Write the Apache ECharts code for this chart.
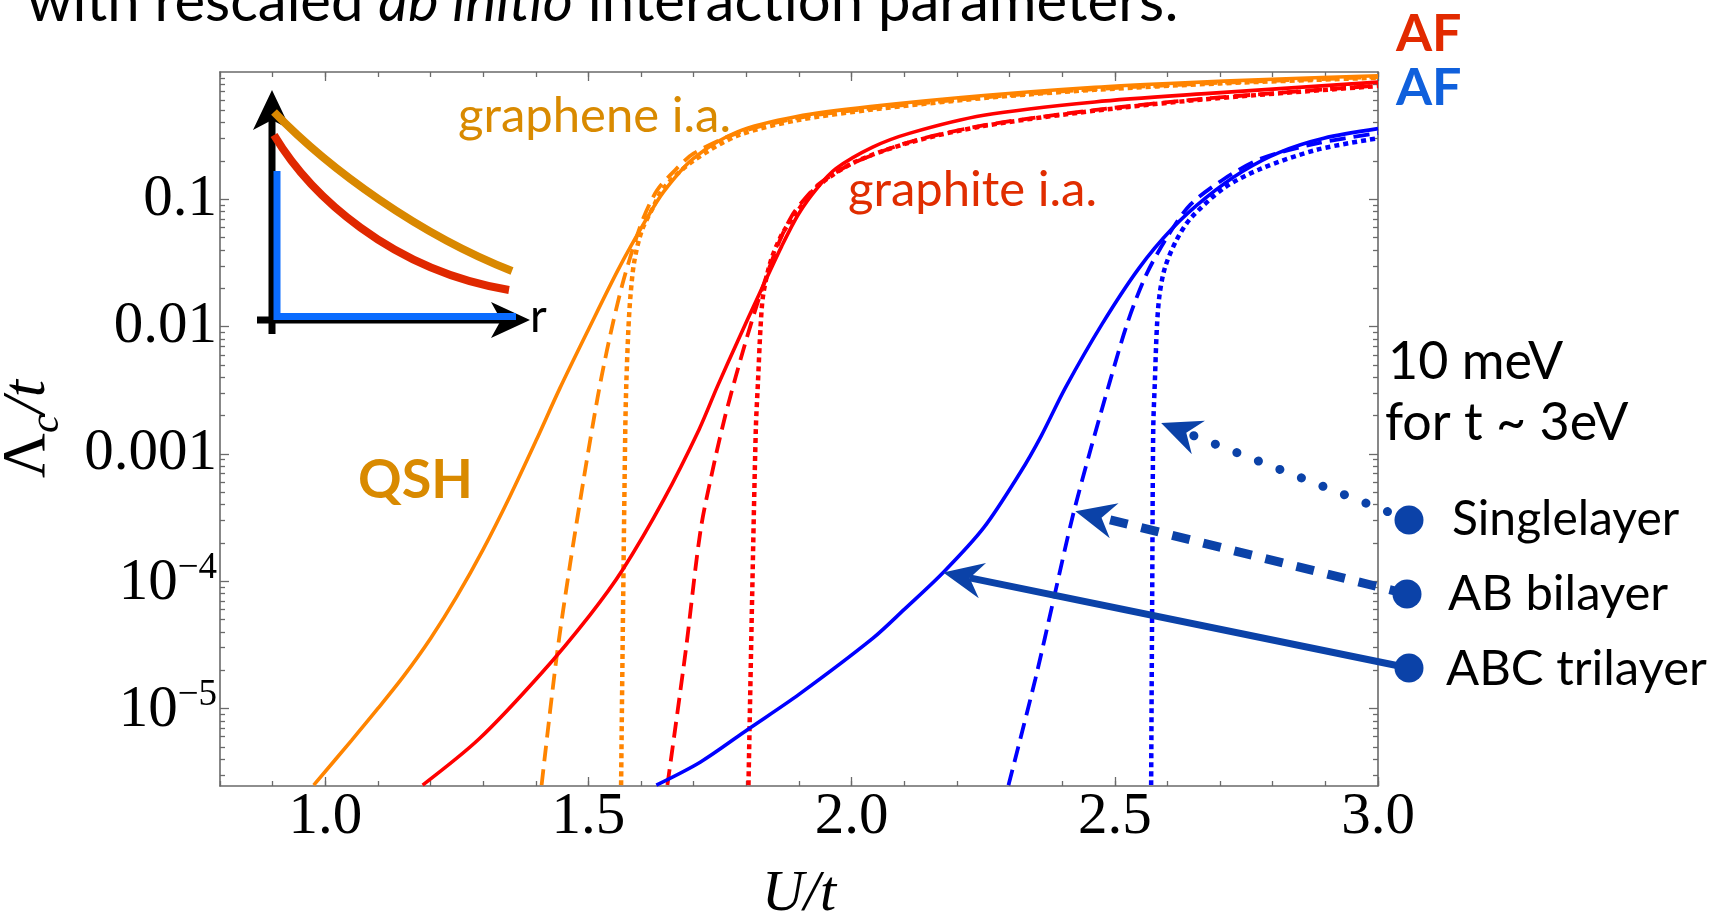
<!DOCTYPE html>
<html>
<head>
<meta charset="utf-8">
<script src="https://cdn.jsdelivr.net/npm/echarts@6/dist/echarts.min.js"></script>
<style>
  html, body { margin: 0; padding: 0; background: #ffffff; }
  #chart { width: 1722px; height: 912px; }
</style>
</head>
<body>
<div id="chart"></div>
<script>
// ---- Axis ticks ----
const xTickValues = [1.0, 1.5, 2.0, 2.5, 3.0];
const xTickLabels = ['1.0', '1.5', '2.0', '2.5', '3.0'];
const yTickValues = [1e-5, 1e-4, 1e-3, 1e-2, 1e-1];
const yTickLabels = ['10^−5', '10^−4', '0.001', '0.01', '0.1'];

// ---- Critical scale Λc/t versus U/t ----
// graphene interaction parameters (orange)
const uGrapheneTri = [0.978, 1.05, 1.10, 1.15, 1.20, 1.25, 1.30, 1.35, 1.40, 1.446, 1.50, 1.558, 1.608, 1.643, 1.699, 1.783, 1.896, 2.040, 2.251, 2.462, 2.602, 2.812, 3.0];
const lamGrapheneTri = [2.5e-6, 5.62e-6, 1.0e-5, 1.82e-5, 3.55e-5, 7.6e-5, 1.78e-4, 4.57e-4, 1.26e-3, 3.3e-3, 9.5e-3, 0.0288, 0.0676, 0.115, 0.209, 0.339, 0.447, 0.537, 0.653, 0.759, 0.813, 0.881, 0.935];
const uGrapheneBi = [1.411, 1.440, 1.465, 1.490, 1.510, 1.525, 1.545, 1.565, 1.585, 1.605, 1.630, 1.660, 1.700, 1.783, 1.900, 2.040, 2.251, 2.462, 2.700, 3.0];
const lamGrapheneBi = [2.5e-6, 2.63e-5, 1.35e-4, 6.0e-4, 1.86e-3, 4.07e-3, 0.0100, 0.0219, 0.0417, 0.0724, 0.117, 0.162, 0.229, 0.331, 0.437, 0.519, 0.631, 0.733, 0.822, 0.912];
const uGrapheneMono = [1.562, 1.566, 1.570, 1.572, 1.576, 1.580, 1.587, 1.601, 1.622, 1.643, 1.699, 1.783, 1.896, 2.040, 2.251, 2.462, 2.700, 3.0];
const lamGrapheneMono = [2.5e-6, 7.6e-5, 1.58e-3, 3.63e-3, 9.8e-3, 0.0178, 0.0324, 0.0562, 0.0851, 0.123, 0.200, 0.316, 0.417, 0.507, 0.624, 0.724, 0.813, 0.902];

// graphite interaction parameters (red)
const uGraphiteTri = [1.185, 1.292, 1.411, 1.502, 1.565, 1.643, 1.710, 1.745, 1.783, 1.825, 1.867, 1.900, 1.935, 1.970, 2.040, 2.111, 2.251, 2.462, 2.672, 3.0];
const lamGraphiteTri = [2.5e-6, 5.75e-6, 1.9e-5, 5.37e-5, 1.23e-4, 4.37e-4, 1.55e-3, 3.39e-3, 7.6e-3, 0.0182, 0.0427, 0.0776, 0.123, 0.174, 0.257, 0.331, 0.457, 0.582, 0.676, 0.832];
const uGraphiteBi = [1.650, 1.685, 1.713, 1.740, 1.760, 1.780, 1.800, 1.820, 1.846, 1.867, 1.885, 1.900, 1.935, 1.970, 2.005, 2.110, 2.250, 2.460, 2.670, 3.0];
const lamGraphiteBi = [2.5e-6, 2.88e-5, 2.51e-4, 8.9e-4, 2.0e-3, 4.07e-3, 7.94e-3, 0.0148, 0.0309, 0.0513, 0.0724, 0.0891, 0.129, 0.162, 0.195, 0.282, 0.380, 0.501, 0.617, 0.783];
const uGraphiteMono = [1.804, 1.811, 1.818, 1.822, 1.827, 1.832, 1.846, 1.867, 1.896, 1.935, 2.005, 2.110, 2.250, 2.460, 2.670, 3.0];
const lamGraphiteMono = [2.5e-6, 7.6e-5, 1.58e-3, 3.63e-3, 0.010, 0.0178, 0.0324, 0.0525, 0.0794, 0.126, 0.195, 0.279, 0.376, 0.495, 0.610, 0.776];

// layered stacks (blue)
const uStackTri = [1.629, 1.713, 1.804, 1.900, 2.040, 2.100, 2.174, 2.251, 2.321, 2.360, 2.406, 2.476, 2.546, 2.609, 2.672, 2.743, 2.813, 2.897, 3.0];
const lamStackTri = [2.5e-6, 3.8e-6, 6.9e-6, 1.29e-5, 3.55e-5, 6.0e-5, 1.17e-4, 2.63e-4, 7.2e-4, 1.38e-3, 3.3e-3, 0.0105, 0.0288, 0.0589, 0.102, 0.166, 0.234, 0.302, 0.359];
const uStackBi = [2.298, 2.349, 2.385, 2.420, 2.455, 2.490, 2.525, 2.560, 2.602, 2.644, 2.708, 2.778, 2.884, 3.0];
const lamStackBi = [2.5e-6, 1.7e-5, 7.6e-5, 3.24e-4, 1.12e-3, 3.63e-3, 0.011, 0.0257, 0.0525, 0.0912, 0.145, 0.209, 0.275, 0.331];
const uStackMono = [2.569, 2.571, 2.573, 2.576, 2.580, 2.585, 2.595, 2.616, 2.644, 2.708, 2.778, 2.884, 3.0];
const lamStackMono = [2.5e-6, 7.6e-5, 1.58e-3, 3.63e-3, 0.010, 0.0178, 0.0288, 0.0468, 0.0708, 0.123, 0.174, 0.245, 0.302];

// 10 meV threshold for t ~ 3 eV
const thresholdLevel = [0.0036];

// points the legend arrows touch: [U/t, Λc/t]
const arrowTipMono = [2.588, 1.75e-3];
const arrowTipBi = [2.425, 3.55e-4];
const arrowTipTri = [2.174, 1.17e-4];

const pairs = (us, vs) => us.map((u, i) => [u, vs[i]]);

const ORANGE = '#ff8400', RED = '#ff0000', BLUE = '#0000ff';
const NAVY = '#0b42a8';
const serif = '"Liberation Serif", "DejaVu Serif", serif';
const sans = 'Lato, "Open Sans", sans-serif';

// minor tick positions
const xMinorTicks = [];
for (let k = 8; k <= 30; k++) xMinorTicks.push(k / 10);
const yMinorTicks = [];
for (let e = -6; e <= -1; e++) for (let m = 2; m <= 9; m++) yMinorTicks.push(m * Math.pow(10, e));

const AXIS_COLOR = '#6a6a6a';

function xAxisDef(position, values, len, withLine, withLabels) {
  return {
    type: 'value', min: 0.8, max: 3.0, position: position,
    axisLine: { show: withLine, onZero: false, lineStyle: { color: AXIS_COLOR, width: 1.6 } },
    axisTick: { show: true, inside: true, length: len, customValues: values,
                lineStyle: { color: AXIS_COLOR, width: 1.3 } },
    axisLabel: withLabels ? {
      show: true, customValues: xTickValues, margin: 2,
      fontFamily: serif, fontSize: 59, color: '#000',
      formatter: v => { const i = xTickValues.findIndex(t => Math.abs(t - v) < 1e-9); return i >= 0 ? xTickLabels[i] : ''; }
    } : { show: false },
    splitLine: { show: false }
  };
}

function yLabel(v) {
  const i = yTickValues.findIndex(t => Math.abs(Math.log10(t) - Math.log10(v)) < 1e-6);
  if (i < 0) return '';
  const s = yTickLabels[i];
  if (s.indexOf('^') >= 0) {
    const parts = s.split('^');
    return '{b|' + parts[0] + '}{p|' + parts[1] + '}';
  }
  return '{b|' + s + '}';
}

function yAxisDef(position, values, len, withLine, withLabels) {
  return {
    type: 'log', logBase: 10, min: 2.46e-6, max: 1, position: position,
    axisLine: { show: withLine, onZero: false, lineStyle: { color: AXIS_COLOR, width: 1.6 } },
    axisTick: { show: true, inside: true, length: len, customValues: values,
                lineStyle: { color: AXIS_COLOR, width: 1.3 } },
    axisLabel: withLabels ? {
      show: true, customValues: yTickValues, margin: 3, formatter: yLabel,
      rich: {
        b: { fontFamily: serif, fontSize: 59, color: '#000', verticalAlign: 'bottom' },
        p: { fontFamily: serif, fontSize: 37, color: '#000', verticalAlign: 'bottom', padding: [0, 0, 26, 0] }
      }
    } : { show: false },
    splitLine: { show: false }
  };
}

const chart = echarts.init(document.getElementById('chart'), null, { renderer: 'canvas' });

function lineSeries(name, data, color, kind) {
  const style = { color: color, width: 3.6 };
  if (kind === 'dashed') { style.type = [16, 8]; style.width = 3.8; }
  if (kind === 'dotted') { style.type = [5, 4]; style.width = 4.5; }
  return {
    name: name, type: 'line', data: data, showSymbol: false, smooth: 0.3,
    clip: true, lineStyle: style, silent: true, animation: false, z: 3
  };
}

const series = [
  lineSeries('graphene ABC trilayer', pairs(uGrapheneTri, lamGrapheneTri), ORANGE, 'solid'),
  lineSeries('graphene AB bilayer', pairs(uGrapheneBi, lamGrapheneBi), ORANGE, 'dashed'),
  lineSeries('graphene Singlelayer', pairs(uGrapheneMono, lamGrapheneMono), ORANGE, 'dotted'),
  lineSeries('graphite ABC trilayer', pairs(uGraphiteTri, lamGraphiteTri), RED, 'solid'),
  lineSeries('graphite AB bilayer', pairs(uGraphiteBi, lamGraphiteBi), RED, 'dashed'),
  lineSeries('graphite Singlelayer', pairs(uGraphiteMono, lamGraphiteMono), RED, 'dotted'),
  lineSeries('ABC trilayer', pairs(uStackTri, lamStackTri), BLUE, 'solid'),
  lineSeries('AB bilayer', pairs(uStackBi, lamStackBi), BLUE, 'dashed'),
  lineSeries('Singlelayer', pairs(uStackMono, lamStackMono), BLUE, 'dotted')
];
series[0].markLine = {
  silent: true, symbol: 'none', animation: false,
  label: { show: false },
  lineStyle: { color: '#555', type: [9, 6], width: 1.3 },
  data: thresholdLevel.map(v => ({ yAxis: v }))
};

// schematic inset: interaction strength versus distance r
const inset = [
  { type: 'line', shape: { x1: 272, y1: 334, x2: 272, y2: 114 }, style: { stroke: '#000', lineWidth: 7 } },
  { type: 'polygon', shape: { points: [[272, 90], [291, 130], [272, 120], [253, 130]] }, style: { fill: '#000' } },
  { type: 'line', shape: { x1: 257, y1: 320, x2: 506, y2: 320 }, style: { stroke: '#000', lineWidth: 7 } },
  { type: 'polygon', shape: { points: [[530, 320], [491, 302], [501, 320], [491, 338]] }, style: { fill: '#000' } },
  { type: 'line', shape: { x1: 277, y1: 171, x2: 277, y2: 320 }, style: { stroke: '#0a6cff', lineWidth: 7 } },
  { type: 'line', shape: { x1: 274, y1: 316.5, x2: 516, y2: 316.5 }, style: { stroke: '#0a6cff', lineWidth: 7 } },
  { type: 'bezierCurve', shape: { x1: 274, y1: 112, cpx1: 330, cpy1: 170, cpx2: 420, cpy2: 235, x2: 512, y2: 271 },
    style: { stroke: '#d98800', lineWidth: 8, fill: null } },
  { type: 'bezierCurve', shape: { x1: 274, y1: 135, cpx1: 310, cpy1: 195, cpx2: 390, cpy2: 270, x2: 509, y2: 290 },
    style: { stroke: '#e02800', lineWidth: 8, fill: null } },
  { type: 'text', style: { text: 'r', x: 530, y: 340, font: '400 46px ' + sans, fill: '#000', textVerticalAlign: 'bottom' } }
];

const texts = [
  { type: 'text', style: {
      text: '{a|with rescaled }{b|ab initio}{a| interaction parameters:}', x: 27, y: 31,
      textVerticalAlign: 'bottom',
      rich: {
        a: { font: '400 58px ' + sans, fill: '#000' },
        b: { font: 'italic 400 58px ' + sans, fill: '#000' }
      } } },
  { type: 'text', style: { text: 'graphene i.a.', x: 458, y: 141, font: '400 49px ' + sans, fill: '#d98a00', textVerticalAlign: 'bottom' } },
  { type: 'text', style: { text: 'graphite i.a.', x: 848, y: 215, font: '400 49px ' + sans, fill: '#e02d00', textVerticalAlign: 'bottom' } },
  { type: 'text', style: { text: 'QSH', x: 358, y: 508, font: '700 54px ' + sans, fill: '#d98a00', textVerticalAlign: 'bottom' } },
  { type: 'text', style: { text: 'AF', x: 1396, y: 60, font: '700 52px ' + sans, fill: '#e22a00', textVerticalAlign: 'bottom' } },
  { type: 'text', style: { text: 'AF', x: 1396, y: 114, font: '700 52px ' + sans, fill: '#1060dc', textVerticalAlign: 'bottom' } },
  { type: 'text', style: { text: '10 meV', x: 1388, y: 388, font: '400 52px ' + sans, fill: '#000', textVerticalAlign: 'bottom' } },
  { type: 'text', style: { text: 'for t ~ 3eV', x: 1385, y: 449, font: '400 52px ' + sans, fill: '#000', textVerticalAlign: 'bottom' } },
  { type: 'text', style: { text: 'Singlelayer', x: 1452, y: 520, font: '400 48px ' + sans, fill: '#000', textVerticalAlign: 'middle' } },
  { type: 'text', style: { text: 'AB bilayer', x: 1448, y: 594, font: '400 49px ' + sans, fill: '#000', textVerticalAlign: 'middle' } },
  { type: 'text', style: { text: 'ABC trilayer', x: 1446, y: 669, font: '400 49px ' + sans, fill: '#000', textVerticalAlign: 'middle' } }
];

const option = {
  backgroundColor: '#ffffff',
  animation: false,
  grid: { left: 220, right: 344, top: 72, bottom: 126, containLabel: false, outerBoundsMode: 'none' },
  xAxis: [
    Object.assign(xAxisDef('bottom', xTickValues, 9, true, true), {
      name: 'U/t', nameLocation: 'middle', nameGap: 80,
      nameTextStyle: { fontFamily: serif, fontStyle: 'italic', fontSize: 58, color: '#000' }
    }),
    xAxisDef('bottom', xMinorTicks, 5, false, false),
    xAxisDef('top', xTickValues, 9, true, false),
    xAxisDef('top', xMinorTicks, 5, false, false)
  ],
  yAxis: [
    Object.assign(yAxisDef('left', yTickValues, 9, true, true), {
      name: '{n|Λ}{s|c}{i|/t}', nameLocation: 'middle', nameGap: 152, nameRotate: 90,
      nameTextStyle: {
        rich: {
          n: { fontFamily: serif, fontSize: 62, color: '#000', verticalAlign: 'bottom', padding: [0, 0, 9, 0] },
          i: { fontFamily: serif, fontStyle: 'italic', fontSize: 62, color: '#000', verticalAlign: 'bottom', padding: [0, 0, 9, 0] },
          s: { fontFamily: serif, fontStyle: 'italic', fontSize: 42, color: '#000', verticalAlign: 'bottom' }
        }
      }
    }),
    yAxisDef('left', yMinorTicks, 5, false, false),
    yAxisDef('right', yTickValues, 9, true, false),
    yAxisDef('right', yMinorTicks, 5, false, false)
  ],
  series: series,
  graphic: { elements: inset.concat(texts) }
};

chart.setOption(option);

// legend markers with arrows pointing to the curves
const legendDots = [
  { x: 1409, y: 520, tip: arrowTipMono, kind: 'dotted' },
  { x: 1407, y: 594, tip: arrowTipBi, kind: 'dashed' },
  { x: 1409, y: 668, tip: arrowTipTri, kind: 'solid' }
];
const arrowEls = [];
legendDots.forEach(d => {
  const tip = chart.convertToPixel({ xAxisIndex: 0, yAxisIndex: 0 }, d.tip);
  const dx = tip[0] - d.x, dy = tip[1] - d.y;
  const len = Math.sqrt(dx * dx + dy * dy);
  const ux = dx / len, uy = dy / len, nx = -uy, ny = ux;
  const L = 40, W = 18, back = 27;
  const bx = tip[0] - ux * L, by = tip[1] - uy * L;
  const ex = tip[0] - ux * back, ey = tip[1] - uy * back;
  const lineStyle = { stroke: NAVY, lineWidth: 7, lineCap: 'butt' };
  if (d.kind === 'dashed') { lineStyle.lineWidth = 9; lineStyle.lineDash = [18, 14]; }
  if (d.kind === 'dotted') { lineStyle.lineWidth = 9; lineStyle.lineDash = [0.1, 23]; lineStyle.lineCap = 'round'; }
  arrowEls.push({ type: 'line', shape: { x1: d.x, y1: d.y, x2: ex, y2: ey }, style: lineStyle, z: 10 });
  arrowEls.push({ type: 'polygon', shape: { points: [tip, [bx + nx * W, by + ny * W], [ex, ey], [bx - nx * W, by - ny * W]] },
                  style: { fill: NAVY }, z: 10 });
  arrowEls.push({ type: 'circle', shape: { cx: d.x, cy: d.y, r: 14.5 }, style: { fill: NAVY }, z: 11 });
});
chart.setOption({ graphic: { elements: inset.concat(texts).concat(arrowEls) } });
</script>
</body>
</html>
